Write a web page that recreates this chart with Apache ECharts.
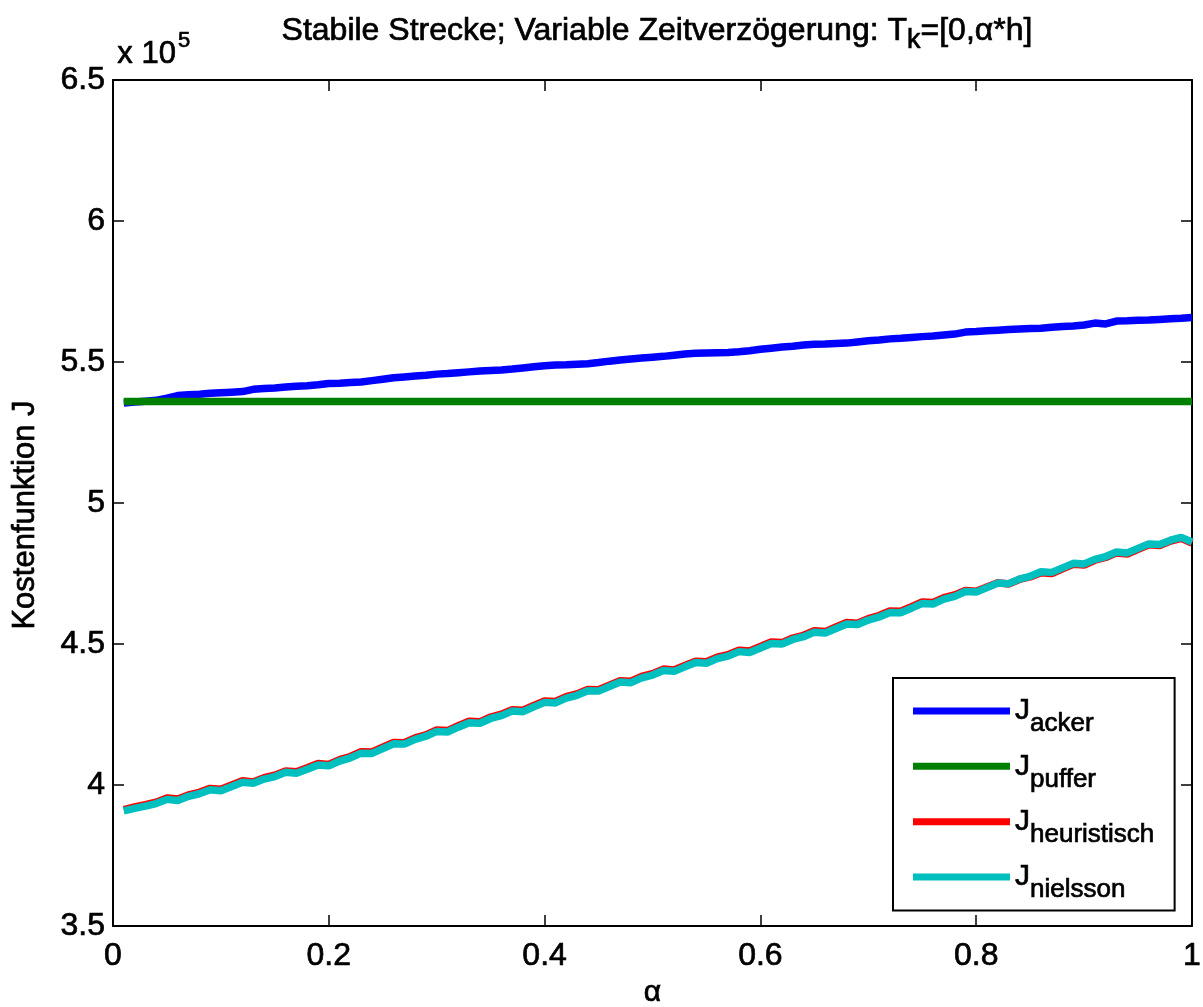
<!DOCTYPE html>
<html>
<head>
<meta charset="utf-8">
<script src="https://cdn.jsdelivr.net/npm/echarts@6/dist/echarts.min.js"></script>
<style>html,body{margin:0;padding:0;background:#fff}#c{width:1203px;height:1007px}</style>
</head>
<body>
<div id="c"></div>
<script>
// alpha grid
const alpha = [0.01,0.02,0.03,0.04,0.05,0.06,0.07,0.08,0.09,0.10,
0.11,0.12,0.13,0.14,0.15,0.16,0.17,0.18,0.19,0.20,
0.21,0.22,0.23,0.24,0.25,0.26,0.27,0.28,0.29,0.30,
0.31,0.32,0.33,0.34,0.35,0.36,0.37,0.38,0.39,0.40,
0.41,0.42,0.43,0.44,0.45,0.46,0.47,0.48,0.49,0.50,
0.51,0.52,0.53,0.54,0.55,0.56,0.57,0.58,0.59,0.60,
0.61,0.62,0.63,0.64,0.65,0.66,0.67,0.68,0.69,0.70,
0.71,0.72,0.73,0.74,0.75,0.76,0.77,0.78,0.79,0.80,
0.81,0.82,0.83,0.84,0.85,0.86,0.87,0.88,0.89,0.90,
0.91,0.92,0.93,0.94,0.95,0.96,0.97,0.98,0.99,1.00];

// values in units of 10^5
const J_acker = [5.355,5.358,5.361,5.364,5.372,5.381,5.384,5.386,5.389,5.391,
5.393,5.395,5.403,5.406,5.408,5.411,5.414,5.416,5.419,5.424,
5.425,5.427,5.429,5.434,5.439,5.444,5.447,5.450,5.453,5.457,
5.459,5.462,5.465,5.468,5.470,5.472,5.475,5.479,5.483,5.487,
5.489,5.490,5.492,5.494,5.498,5.503,5.507,5.511,5.514,5.517,
5.520,5.524,5.528,5.531,5.532,5.533,5.534,5.536,5.540,5.545,
5.549,5.553,5.556,5.560,5.563,5.564,5.566,5.567,5.571,5.575,
5.578,5.582,5.584,5.587,5.590,5.592,5.596,5.599,5.606,5.608,
5.611,5.613,5.615,5.617,5.619,5.620,5.623,5.626,5.628,5.631,
5.638,5.635,5.645,5.646,5.648,5.649,5.651,5.653,5.655,5.658];

const J_puffer = [5.36,5.36,5.36,5.36,5.36,5.36,5.36,5.36,5.36,5.36,
5.36,5.36,5.36,5.36,5.36,5.36,5.36,5.36,5.36,5.36,
5.36,5.36,5.36,5.36,5.36,5.36,5.36,5.36,5.36,5.36,
5.36,5.36,5.36,5.36,5.36,5.36,5.36,5.36,5.36,5.36,
5.36,5.36,5.36,5.36,5.36,5.36,5.36,5.36,5.36,5.36,
5.36,5.36,5.36,5.36,5.36,5.36,5.36,5.36,5.36,5.36,
5.36,5.36,5.36,5.36,5.36,5.36,5.36,5.36,5.36,5.36,
5.36,5.36,5.36,5.36,5.36,5.36,5.36,5.36,5.36,5.36,
5.36,5.36,5.36,5.36,5.36,5.36,5.36,5.36,5.36,5.36,
5.36,5.36,5.36,5.36,5.36,5.36,5.36,5.36,5.36,5.36];

const J_heuristisch = [3.913,3.922,3.930,3.939,3.954,3.950,3.965,3.974,3.988,3.985,
4.000,4.015,4.011,4.026,4.035,4.050,4.047,4.061,4.076,4.073,
4.090,4.101,4.118,4.117,4.134,4.151,4.150,4.167,4.178,4.195,
4.193,4.210,4.226,4.224,4.241,4.251,4.267,4.265,4.282,4.298,
4.296,4.313,4.323,4.339,4.338,4.354,4.370,4.368,4.385,4.395,
4.411,4.408,4.424,4.439,4.437,4.453,4.462,4.478,4.475,4.491,
4.507,4.505,4.521,4.531,4.547,4.544,4.560,4.576,4.574,4.590,
4.601,4.617,4.616,4.632,4.649,4.647,4.664,4.674,4.690,4.687,
4.702,4.717,4.713,4.729,4.738,4.753,4.750,4.767,4.783,4.780,
4.797,4.807,4.823,4.819,4.836,4.852,4.849,4.865,4.875,4.858];

const J_nielsson = [3.908,3.917,3.925,3.934,3.949,3.945,3.960,3.969,3.983,3.980,
3.995,4.010,4.006,4.021,4.030,4.045,4.042,4.056,4.071,4.068,
4.085,4.096,4.113,4.112,4.129,4.146,4.145,4.162,4.173,4.190,
4.188,4.205,4.221,4.219,4.236,4.246,4.262,4.260,4.277,4.293,
4.291,4.308,4.318,4.334,4.333,4.349,4.365,4.363,4.380,4.390,
4.406,4.403,4.419,4.434,4.432,4.448,4.457,4.473,4.470,4.486,
4.502,4.500,4.516,4.526,4.542,4.539,4.555,4.571,4.569,4.585,
4.596,4.612,4.611,4.627,4.644,4.642,4.659,4.669,4.686,4.684,
4.700,4.716,4.714,4.730,4.740,4.756,4.754,4.770,4.786,4.784,
4.800,4.810,4.826,4.823,4.839,4.855,4.853,4.868,4.878,4.862];

const seriesNames = ['acker','puffer','heuristisch','nielsson'];
const seriesColors = ['#0000ff','#008000','#ff0000','#00bfbf'];
const seriesValues = [J_acker, J_puffer, J_heuristisch, J_nielsson];

const FONT = '"Liberation Sans", Arial, Helvetica, sans-serif';
const HEAVY = {textBorderColor:'#000', textBorderWidth:0.7};

const chart = echarts.init(document.getElementById('c'), null, {renderer:'canvas'});

function pairs(vals){ return alpha.map((a,i)=>[a, vals[i]]); }

const axisCommon = {
  axisLine:{show:true, onZero:false, lineStyle:{color:'#000', width:2}},
  axisTick:{show:true, inside:true, length:11, lineStyle:{color:'#000', width:1.5}},
  splitLine:{show:false}
};

const option = {
  animation:false,
  backgroundColor:'#fff',
  title:{
    text:'{a|Stabile Strecke; Variable Zeitverzögerung: T}{b|k}{a|=[0,α*h]}',
    left:652, top:8, textAlign:'center',
    textStyle:{
      fontFamily:FONT, fontWeight:'normal',
      rich:{
        a:Object.assign({fontFamily:FONT, fontSize:32, fontWeight:'normal', color:'#000', lineHeight:36}, HEAVY),
        b:Object.assign({fontFamily:FONT, fontSize:27, fontWeight:'normal', color:'#000', lineHeight:36, padding:[20,0,0,0]}, HEAVY)
      }
    }
  },
  grid:{left:113, right:11, top:80, bottom:81, containLabel:false, outerBoundsMode:'none'},
  legend:{
    orient:'vertical', left:893, top:678,
    padding:[7,20,7,20], itemGap:3,
    itemWidth:97, itemHeight:7, icon:'rect',
    borderColor:'#000', borderWidth:2, backgroundColor:'#fff',
    data:seriesNames,
    formatter:function(n){ return '{j|J}{s|'+n+'}'; },
    textStyle:{
      fontFamily:FONT, color:'#000',
      rich:{
        j:Object.assign({fontFamily:FONT, fontSize:30, lineHeight:30, color:'#000', verticalAlign:'middle'}, HEAVY),
        s:Object.assign({fontFamily:FONT, fontSize:26, lineHeight:26, color:'#000', padding:[26,0,0,0], verticalAlign:'middle'}, HEAVY)
      }
    }
  },
  xAxis:[
    Object.assign({}, axisCommon, {
      type:'value', min:0, max:1, interval:0.2, position:'bottom',
      name:'α', nameLocation:'middle', nameGap:52,
      nameTextStyle:Object.assign({fontFamily:FONT, fontSize:30, color:'#000'}, HEAVY),
      axisLabel:Object.assign({show:true, margin:14, fontFamily:FONT, fontSize:32, color:'#000'}, HEAVY)
    }),
    Object.assign({}, axisCommon, {
      type:'value', min:0, max:1, interval:0.2, position:'top',
      axisLabel:{show:false}
    })
  ],
  yAxis:[
    Object.assign({}, axisCommon, {
      type:'value', min:3.5, max:6.5, interval:0.5, position:'left',
      name:'Kostenfunktion J', nameLocation:'middle', nameGap:72,
      nameTextStyle:Object.assign({fontFamily:FONT, fontSize:31, color:'#000', padding:[0,24,0,0]}, HEAVY),
      axisLabel:Object.assign({show:true, margin:8, fontFamily:FONT, fontSize:32, color:'#000'}, HEAVY)
    }),
    Object.assign({}, axisCommon, {
      type:'value', min:3.5, max:6.5, interval:0.5, position:'right',
      axisLabel:{show:false}
    })
  ],
  series: seriesNames.map((n,k)=>({
    name:n, type:'line', showSymbol:false, symbol:'none',
    data:pairs(seriesValues[k]),
    lineStyle:{color:seriesColors[k], width:7.5},
    itemStyle:{color:seriesColors[k]},
    z:2+k
  })),
  graphic:[
    {
      type:'text', left:117, top:30,
      style:{
        text:'{a|x 10}{b|5}',
        rich:{
          a:{fontFamily:FONT, fontSize:31, fill:'#000', stroke:'#000', lineWidth:0.7, padding:[14,0,0,0]},
          b:{fontFamily:FONT, fontSize:22, fill:'#000', stroke:'#000', lineWidth:0.7, padding:[0,0,12,2]}
        }
      }
    }
  ]
};
chart.setOption(option);
</script>
</body>
</html>
